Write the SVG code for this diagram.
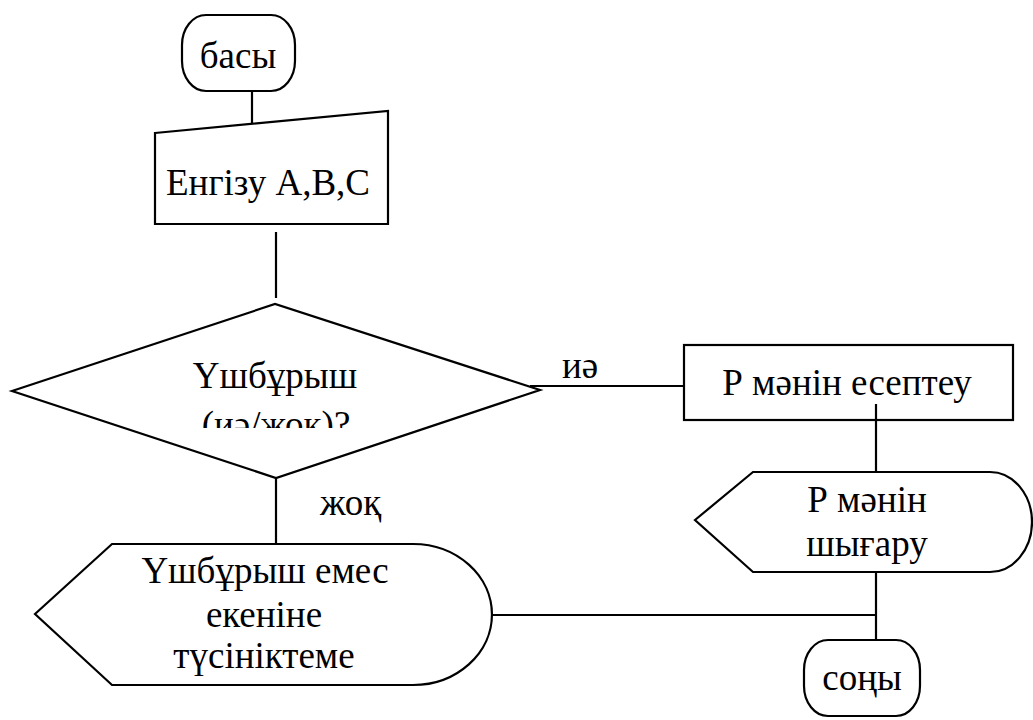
<svg xmlns="http://www.w3.org/2000/svg" width="1033" height="720" viewBox="0 0 1033 720">
<style>
.s{fill:#fff;stroke:#000;stroke-width:2.2;stroke-linejoin:miter}
.c{fill:none;stroke:#000;stroke-width:2.2}
.t{font-family:'Liberation Serif','Times New Roman',serif;font-size:37px;fill:#000;text-anchor:middle}
.lb{text-anchor:start}
</style>
<defs>
<clipPath id="dclip"><rect x="0" y="340" width="1033" height="88"/></clipPath>
</defs>
<g id="connectors">
<line class="c" x1="252" y1="91" x2="252" y2="124"/>
<line class="c" x1="276" y1="232" x2="276" y2="298"/>
<line class="c" x1="530" y1="386" x2="684" y2="386"/>
<line class="c" x1="276" y1="478" x2="276" y2="544"/>
<line class="c" x1="876" y1="572" x2="876" y2="640"/>
<line class="c" x1="492" y1="615" x2="876" y2="615"/>
<text class="t lb" x="562" y="378">иә</text>
<text class="t lb" x="320" y="515">жоқ</text>
</g>
<g id="start">
<rect class="s" x="182" y="15" width="113" height="76" rx="24" ry="30"/>
<text class="t" x="238" y="68">басы</text>
</g>
<g id="input">
<polygon class="s" points="155,133 388,111 388,224 155,224"/>
<text class="t" x="268" y="195">Енгізу А,В,С</text>
</g>
<g id="decision">
<polygon class="s" points="12,391 275,304 540,390 276,478"/>
<g clip-path="url(#dclip)">
<text class="t" x="275" y="388">Үшбұрыш</text>
<text class="t" x="276" y="437">(иә/жоқ)?</text>
</g>
</g>
<g id="compute">
<rect class="s" x="684" y="345" width="329" height="75"/>
<text class="t" x="847" y="395">Р мәнін есептеу</text>
<line class="c" x1="876" y1="404" x2="876" y2="472"/>
</g>
<g id="output">
<path class="s" d="M695,520 L753,472 L990,472 A42,50 0 0 1 990,572 L753,572 Z"/>
<text class="t" x="867" y="512">Р мәнін</text>
<text class="t" x="867" y="556">шығару</text>
</g>
<g id="message">
<path class="s" d="M35,614 L112,544 L413,544 A79,70.5 0 0 1 413,685 L112,685 Z"/>
<text class="t" x="265" y="583">Үшбұрыш емес</text>
<text class="t" x="264" y="627">екеніне</text>
<text class="t" x="264" y="668">түсініктеме</text>
</g>
<g id="end">
<rect class="s" x="804" y="640" width="116" height="76" rx="24" ry="30"/>
<text class="t" x="862" y="690">соңы</text>
</g>
</svg>
